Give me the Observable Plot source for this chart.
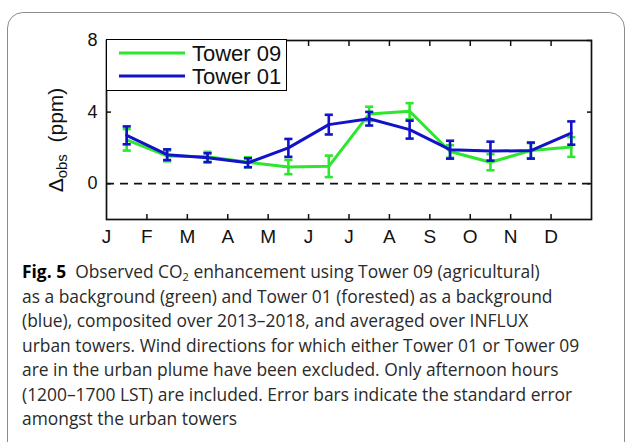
<!DOCTYPE html>
<html><head><meta charset="utf-8">
<script src="https://cdn.jsdelivr.net/npm/d3@7"></script>
<script src="https://cdn.jsdelivr.net/npm/@observablehq/plot@0.6"></script>
<style>
html,body{margin:0;padding:0;background:#fff;width:627px;height:442px;overflow:hidden;}
#wrap{position:relative;width:627px;height:442px;}
#border{position:absolute;left:7px;top:12px;width:618px;height:480px;border:1.5px solid #8c8c8c;border-radius:16px;box-sizing:border-box;}
#chart{position:absolute;left:0;top:0;}
#ylabel{position:absolute;left:56px;top:140px;transform:translate(-50%,-50%) rotate(-90deg);white-space:nowrap;font-family:"Liberation Sans",Arial,sans-serif;font-size:21px;color:#111;}
#ylabel sub{font-size:15px;vertical-align:-4px;line-height:0;}
#legend{position:absolute;left:106px;top:39px;width:181px;height:52px;border:1.6px solid #000;background:#fff;box-sizing:border-box;}
#caption{position:absolute;left:22px;top:259px;font-family:"Open Sans",Lato,sans-serif;font-size:17.4px;line-height:24.5px;color:#2a2a2a;white-space:nowrap;letter-spacing:0;}
#caption b{font-weight:700;color:#000;}
#caption sub{font-size:11px;vertical-align:-3px;line-height:0;}
</style></head>
<body>
<div id="wrap">
  <div id="border"></div>
  <div id="chart"></div>
  <div id="ylabel">Δ<sub>obs</sub>&nbsp;&nbsp;(ppm)</div>
  <div id="legend"></div>
  <div id="caption">
    <div><b>Fig. 5</b>&nbsp; Observed CO<sub>2</sub> enhancement using Tower 09 (agricultural)</div>
    <div>as a background (green) and Tower 01 (forested) as a background</div>
    <div>(blue), composited over 2013–2018, and averaged over INFLUX</div>
    <div>urban towers. Wind directions for which either Tower 01 or Tower 09</div>
    <div>are in the urban plume have been excluded. Only afternoon hours</div>
    <div>(1200–1700 LST) are included. Error bars indicate the standard error</div>
    <div>amongst the urban towers</div>
  </div>
</div>
<script>
const months = ["J","F","M","A","M","J","J","A","S","O","N","D"];
const series = ["Tower 09", "Tower 01"];
const seriesColors = ["#2ee62e", "#1212c8"];
const tower09 = [2.45, 1.55, 1.5, 1.2, 0.93, 0.97, 3.9, 4.05, 1.8, 1.2, 1.85, 2.05];
const tower09Err = [0.6, 0.3, 0.28, 0.28, 0.4, 0.6, 0.4, 0.45, 0.35, 0.45, 0.42, 0.55];
const tower01 = [2.7, 1.62, 1.45, 1.17, 2.0, 3.3, 3.63, 3.02, 1.9, 1.82, 1.85, 2.83];
const tower01Err = [0.5, 0.3, 0.25, 0.25, 0.5, 0.55, 0.38, 0.5, 0.5, 0.53, 0.45, 0.65];
const yTicks = [0, 4, 8];

const rows = [
  ...tower09.map((v, i) => ({series: "Tower 09", x: i + 0.5, v, e: tower09Err[i]})),
  ...tower01.map((v, i) => ({series: "Tower 01", x: i + 0.5, v, e: tower01Err[i]}))
];

const cap = {draw(ctx, size) { const w = Math.sqrt(size); ctx.moveTo(-w / 2, 0); ctx.lineTo(w / 2, 0); }};

const seriesMarks = series.flatMap((s) => {
  const d = rows.filter((r) => r.series === s);
  return [
    Plot.line(d, {x: "x", y: "v", stroke: "series", strokeWidth: 3}),
    Plot.ruleX(d, {x: "x", y1: (r) => r.v - r.e, y2: (r) => r.v + r.e, stroke: "series", strokeWidth: 2.6}),
    Plot.dot(d, {x: "x", y: (r) => r.v + r.e, symbol: cap, r: 4.6, stroke: "series", fill: "none", strokeWidth: 2.6}),
    Plot.dot(d, {x: "x", y: (r) => r.v - r.e, symbol: cap, r: 4.6, stroke: "series", fill: "none", strokeWidth: 2.6})
  ];
});

const chart = Plot.plot({
  width: 627, height: 255,
  marginLeft: 106, marginRight: 36, marginTop: 40, marginBottom: 36,
  style: {fontFamily: "'Liberation Sans', Arial, sans-serif", background: "transparent", color: "#111"},
  x: {domain: [0, 12]},
  y: {domain: [-2, 8]},
  color: {domain: series, range: seriesColors},
  marks: [
    Plot.ruleY([0], {stroke: "#111", strokeWidth: 1.7, strokeDasharray: "8,6"}),
    ...seriesMarks,
    Plot.axisX({anchor: "bottom", ticks: d3.range(12), tickFormat: (i) => months[i], tickSize: 0, tickPadding: 10, fontSize: 19, label: null}),
    Plot.axisX({anchor: "bottom", ticks: d3.range(1, 12), tickSize: -5, tickFormat: () => "", strokeWidth: 1.5, label: null}),
    Plot.axisX({anchor: "top", ticks: d3.range(1, 12), tickSize: -5, tickFormat: () => "", strokeWidth: 1.5, label: null}),
    Plot.axisY({anchor: "left", ticks: yTicks, tickSize: 0, tickPadding: 9, fontSize: 18, label: null}),
    Plot.axisY({anchor: "left", ticks: yTicks, tickSize: -5, tickFormat: () => "", strokeWidth: 1.5, label: null}),
    Plot.axisY({anchor: "right", ticks: yTicks, tickSize: -5, tickFormat: () => "", strokeWidth: 1.5, label: null}),
    Plot.frame({stroke: "#111", strokeWidth: 1.7})
  ]
});
document.getElementById("chart").appendChild(chart);

// legend
const legend = document.getElementById("legend");
legend.innerHTML = `<svg width="179" height="50" style="display:block">${series.map((s, i) => `
  <line x1="12" x2="78" y1="${13 + i * 23}" y2="${13 + i * 23}" stroke="${seriesColors[i]}" stroke-width="3"/>
  <text x="85" y="${13 + i * 23}" dy="0.36em" font-family="'Liberation Sans', Arial, sans-serif" font-size="22" fill="#111">${s}</text>`).join("")}</svg>`;
</script>
</body></html>
